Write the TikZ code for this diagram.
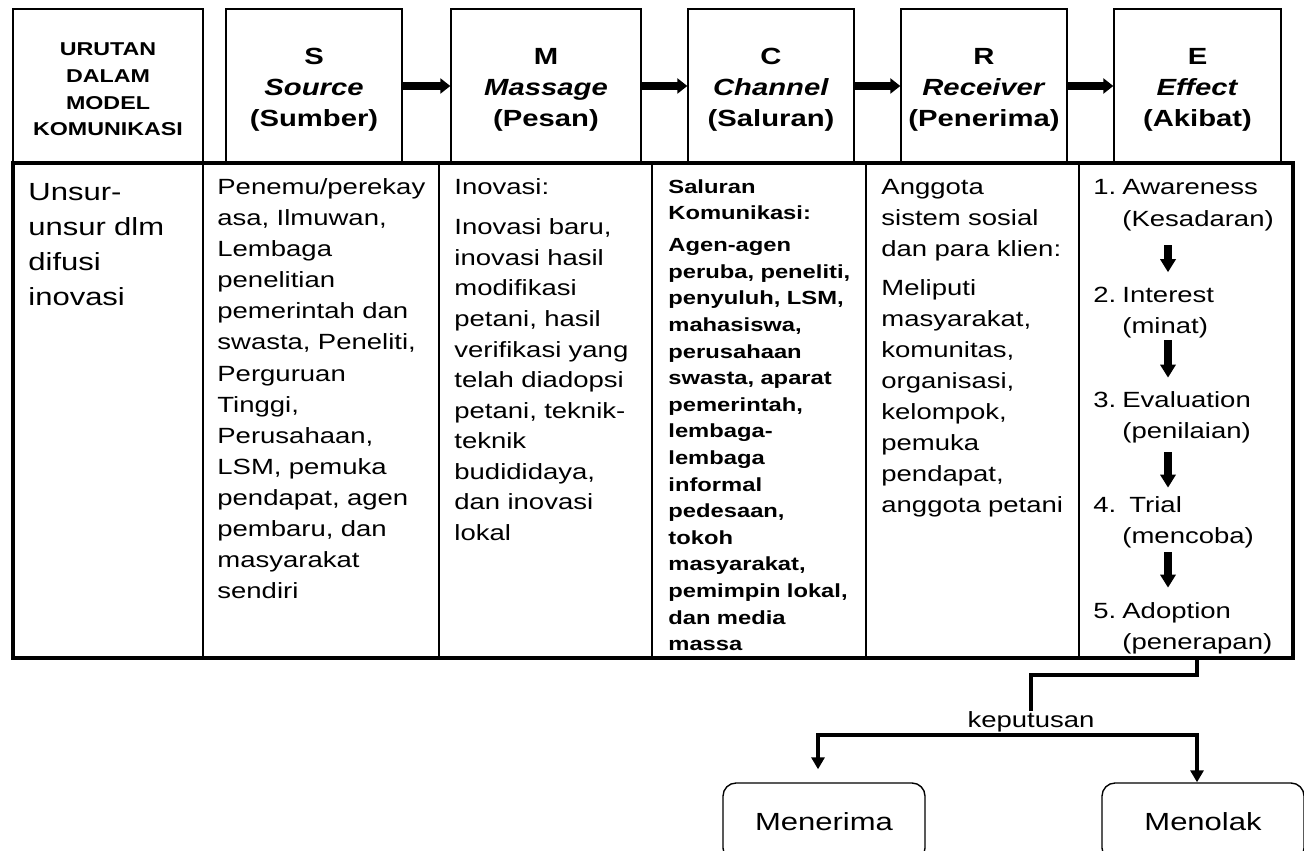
\documentclass[tikz,border=0pt]{standalone}
\usepackage{fontspec}
\setmainfont{Liberation Sans}[FakeStretch=1.25]
\usetikzlibrary{arrows.meta}

\newcommand\urutanfont{\fontsize{9.3}{13.4}\selectfont\bfseries}
\newcommand\headfont{\fontsize{11.7}{15.5}\selectfont\bfseries}
\newcommand\chanfont{\fontsize{9.5}{13.3}\selectfont\bfseries}
\newcommand\hdrstrut[1]{\rule{0pt}{#1}}

\tikzset{
  hdrbox/.style={draw, line width=0.7pt, inner sep=0pt, minimum height=77pt, align=center, font=\headfont},
  hdrarrow/.style={line width=3.8pt, -{Triangle[width=7.5pt,length=5pt]}},
  cell/.style={anchor=base west, inner sep=0pt, text width=#1, align=left},
  cell/.default=120pt,
  flowarrow/.style={line width=3.8pt, -{Triangle[width=7.5pt,length=6.5pt]}},
  decline/.style={line width=2pt},
  decarrow/.style={line width=2pt, -{Triangle[width=6.5pt,length=6pt]}},
  choicebox/.style={draw, line width=0.7pt, rounded corners=6.5pt, minimum width=101pt, minimum height=39pt, inner sep=0pt, font=\fontsize{12.4}{14}\selectfont}
}

\begin{document}
\begin{tikzpicture}[x=0.5pt, y=-0.5pt]
	\useasboundingbox (0,0) rectangle (1304,850);
	
	%%%%% HEADER ROW %%%%%
	\node[hdrbox, minimum width=95pt, font=\urutanfont] (hUrutan) at (108,86) {\hdrstrut{9.7pt}URUTAN\\DALAM\\MODEL\\KOMUNIKASI};
	\node[hdrbox, minimum width=88pt] (hS) at (314,86) {\hdrstrut{12.4pt}S\\\textit{Source}\\(Sumber)};
	\node[hdrbox, minimum width=95pt] (hM) at (546,86) {\hdrstrut{12.4pt}M\\\textit{Massage}\\(Pesan)};
	\node[hdrbox, minimum width=83pt] (hC) at (771,86) {\hdrstrut{12.4pt}C\\\textit{Channel}\\(Saluran)};
	\node[hdrbox, minimum width=83pt] (hR) at (984,86) {\hdrstrut{12.4pt}R\\\textit{Receiver}\\(Penerima)};
	\node[hdrbox, minimum width=83.5pt] (hE) at (1197.5,86) {\hdrstrut{12.4pt}E\\\textit{Effect}\\(Akibat)};
	
	\draw[hdrarrow] (hS.east) -- (hM.west);
	\draw[hdrarrow] (hM.east) -- (hC.west);
	\draw[hdrarrow] (hC.east) -- (hR.west);
	\draw[hdrarrow] (hR.east) -- (hE.west);
	
	%%%%% TABLE %%%%%
	\draw[fill=white, line width=2pt] (13,163) rectangle (1293,658);
	\draw[line width=1pt] (203,163) -- (203,658);
	\draw[line width=1pt] (439,163) -- (439,658);
	\draw[line width=1pt] (652,163) -- (652,658);
	\draw[line width=1pt] (866,163) -- (866,658);
	\draw[line width=1pt] (1079,163) -- (1079,658);
	
	\node[cell, font={\fontsize{12.4}{17.5}\selectfont}] (cUnsur) at (28,200) {Unsur-\\unsur dlm\\difusi\\inovasi};
	
	\node[cell, font={\fontsize{11}{15.5}\selectfont}] (cSource) at (217,195) {Penemu/perekay\\asa, Ilmuwan,\\Lembaga\\penelitian\\pemerintah dan\\swasta, Peneliti,\\Perguruan\\Tinggi,\\Perusahaan,\\LSM, pemuka\\pendapat, agen\\pembaru, dan\\masyarakat\\sendiri};
	
	\node[cell, font={\fontsize{11}{15.25}\selectfont}] (cMsg) at (454,195) {Inovasi:\\[4.75pt]Inovasi baru,\\inovasi hasil\\modifikasi\\petani, hasil\\verifikasi yang\\telah diadopsi\\petani, teknik-\\teknik\\budididaya,\\dan inovasi\\lokal};
	
	\node[cell, font=\chanfont] (cChan) at (668,193) {Saluran\\Komunikasi:\\[2.7pt]Agen-agen\\peruba, peneliti,\\penyuluh, LSM,\\mahasiswa,\\perusahaan\\swasta, aparat\\pemerintah,\\lembaga-\\lembaga\\informal\\pedesaan,\\tokoh\\masyarakat,\\pemimpin lokal,\\dan media\\massa};
	
	\node[cell, font={\fontsize{11}{15.5}\selectfont}] (cRecv) at (881,195) {Anggota\\sistem sosial\\dan para klien:\\[3.65pt]Meliputi\\masyarakat,\\komunitas,\\organisasi,\\kelompok,\\pemuka\\pendapat,\\anggota petani};
	
	%%%%% EFFECT STEPS %%%%%
	\node[cell=100pt, font={\fontsize{11}{15.75}\selectfont}] (e1) at (1093,195) {\makebox[14.5pt][l]{1.}Awareness\\\hspace*{14.5pt}(Kesadaran)};
	\node[cell=100pt, font={\fontsize{11}{15.75}\selectfont}] (e2) at (1093,302) {\makebox[14.5pt][l]{2.}Interest\\\hspace*{14.5pt}(minat)};
	\node[cell=100pt, font={\fontsize{11}{15.75}\selectfont}] (e3) at (1093,407) {\makebox[14.5pt][l]{3.}Evaluation\\\hspace*{14.5pt}(penilaian)};
	\node[cell=100pt, font={\fontsize{11}{15.75}\selectfont}] (e4) at (1093,512) {\makebox[18pt][l]{4.}Trial\\\hspace*{14.5pt}(mencoba)};
	\node[cell=100pt, font={\fontsize{11}{15.75}\selectfont}] (e5) at (1093,618) {\makebox[14.5pt][l]{5.}Adoption\\\hspace*{14.5pt}(penerapan)};
	
	\coordinate (eaxis) at (1168,0);
	\draw[flowarrow, shorten <=7pt, shorten >=7pt] (e1.south -| eaxis) -- (e2.north -| eaxis);
	\draw[flowarrow, shorten <=1pt, shorten >=6.5pt] (e2.south -| eaxis) -- (e3.north -| eaxis);
	\draw[flowarrow, shorten <=4.5pt, shorten >=4pt] (e3.south -| eaxis) -- (e4.north -| eaxis);
	\draw[flowarrow, shorten <=2pt, shorten >=7pt] (e4.south -| eaxis) -- (e5.north -| eaxis);
	
	%%%%% DECISION %%%%%
	\coordinate (efoot) at (1197,658);
	\node[inner sep=0pt, anchor=base, font={\fontsize{11}{13}\selectfont}] (kep) at (1031,727) {keputusan};
	\coordinate (fork) at (1031,735);
	
	\node[choicebox] (terima) at (824,822) {Menerima};
	\node[choicebox] (tolak) at (1203,822) {Menolak};
	
	\draw[decline] (efoot) -- ++(0,17) -| (kep.north);
	\draw[decarrow] (fork) -| ([xshift=-3pt,yshift=6.5pt]terima.north);
	\draw[decarrow] (fork) -| ([xshift=-3pt]tolak.north);
	
\end{tikzpicture}
\end{document}
